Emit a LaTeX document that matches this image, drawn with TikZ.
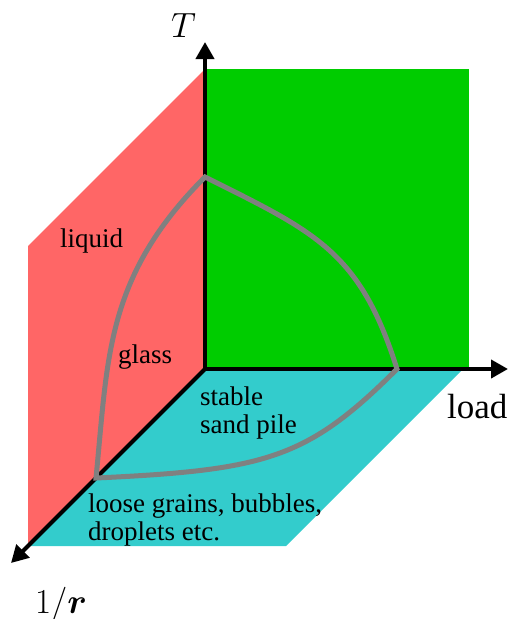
\RequirePackage{fix-cm}
\documentclass[tikz,border=0pt]{standalone}
\usepackage{amsmath, bm}
\usepackage{fontspec}
\setmainfont{Liberation Serif}
\usepackage{xcolor}
\usepackage{tikz}
\usetikzlibrary{arrows.meta, positioning, calc}
\definecolor{LiquidRed}{RGB}{255, 102, 102}
\definecolor{JamGreen}{RGB}{0, 204, 0}
\definecolor{GrainCyan}{RGB}{51, 204, 204}
\definecolor{LineGray}{RGB}{128, 128, 128}

\begin{document}
\begin{tikzpicture}[
    x=1pt, y=-1pt,
    axis/.style={line width=4pt, -{Triangle[length=17pt, width=18pt]}},
    boundary/.style={draw=LineGray, line width=5pt},
    phase/.style={anchor=base west, inner sep=0pt, align=left,
      font=\fontsize{27}{28}\selectfont},
    axislabel/.style={anchor=base west, inner sep=0pt,
      font=\fontsize{35}{40}\selectfont}
  ]
  \useasboundingbox (0,0) rectangle (510,619);

  % planes
  \fill[LiquidRed] (205,69) -- (205,369) -- (28,546) -- (28,246) -- cycle;
  \fill[JamGreen] (205,69) rectangle (469,369);
  \fill[GrainCyan] (205,369) -- (463,369) -- (286,546) -- (28,546) -- cycle;

  % axes
  \coordinate (O) at (205,369);
  \coordinate (Ttip) at (205,42);
  \coordinate (Ltip) at (508,369);
  \coordinate (Rtip) at (11,563);
  \draw[axis] (O) -- (Ttip);
  \draw[axis] (O) -- (Ltip);
  \draw[axis] (O) -- (Rtip);

  % jamming surface
  \coordinate (A) at (205,177);
  \coordinate (B) at (397,369);
  \coordinate (C) at (96,478);
  \draw[boundary] (A) .. controls +(110,55) and +(-37,-118) .. (B)
    .. controls +(-90,90) and +(170,-8) .. (C)
    .. controls +(12,-120) and +(-100,100) .. cycle;

  \node[axislabel] (tlab) at (171,37) {$T$};
  \node[axislabel] (loadlab) at (447,418) {load};
  \node[axislabel] (rlab) at (35,613) {$1/\boldsymbol{r}$};

  \node[phase] (liquid) at (60,247) {liquid};
  \node[phase] (glass) at (118,363) {glass};
  \node[phase] (sand) at (200,433) {stable\\sand pile};
  \node[phase] (loose) at (88,540) {loose grains, bubbles,\\droplets etc.};
\end{tikzpicture}
\end{document}
